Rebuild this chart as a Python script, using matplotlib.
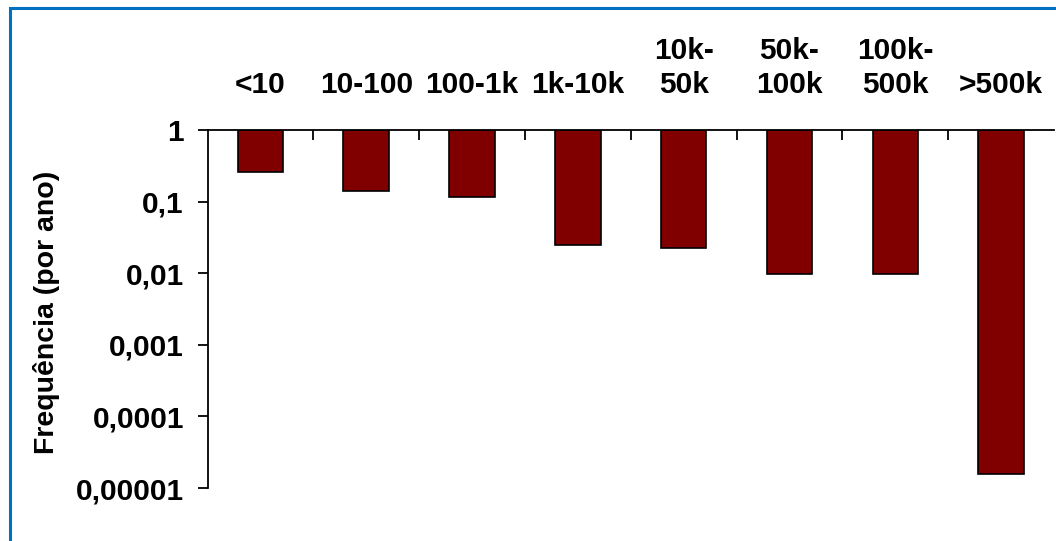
import numpy as np
import matplotlib
matplotlib.use("Agg")
import matplotlib.pyplot as plt
from matplotlib.patches import Rectangle
from matplotlib.ticker import FixedLocator, FixedFormatter

plt.rcParams['font.family'] = ['Liberation Sans', 'DejaVu Sans']
plt.rcParams['font.weight'] = 'bold'
plt.rcParams['axes.labelweight'] = 'bold'

# faixas de tamanho e frequência anual
faixas = ['<10', '10-100', '100-1k', '1k-10k', '10k-\n50k', '50k-\n100k', '100k-\n500k', '>500k']
freq = [0.257, 0.142, 0.117, 0.025, 0.0224, 0.0099, 0.0099, 0.0000158]
y_ticks = [1, 0.1, 0.01, 0.001, 0.0001, 0.00001]
y_labels = ['1', '0,1', '0,01', '0,001', '0,0001', '0,00001']

FS = 21.5
W, H = 1056, 541
fig = plt.figure(figsize=(W / 100, H / 100), dpi=100)
ax = fig.add_axes([207.5 / W, 1 - 488 / H, (1054 - 207.5) / W, (488 - 130) / H])

x = np.arange(len(faixas))
freq = np.array(freq)
# barras penduradas a partir de 1 até o valor
ax.bar(x, 1 - freq, bottom=freq, width=0.43, color='#800000',
       edgecolor='black', linewidth=1.2)

ax.set_yscale('log')
ax.set_ylim(1e-5, 1)
ax.set_xlim(-0.5, len(faixas) - 0.5)

ax.yaxis.set_major_locator(FixedLocator(y_ticks))
ax.yaxis.set_major_formatter(FixedFormatter(y_labels))
ax.yaxis.set_minor_locator(FixedLocator([]))
ax.tick_params(axis='y', which='major', direction='out', length=7, width=1.3,
               pad=10, labelsize=FS)

ax.xaxis.tick_top()
ax.set_xticks(x)
ax.set_xticklabels(faixas, fontsize=FS, linespacing=1.3)
ax.set_xticks(np.arange(len(faixas) - 1) + 0.5, minor=True)
ax.tick_params(axis='x', which='major', length=0, pad=22)
ax.tick_params(axis='x', which='minor', direction='in', length=7, width=1.3)

for s in ['bottom', 'right']:
    ax.spines[s].set_visible(False)
for s in ['top', 'left']:
    ax.spines[s].set_linewidth(1.3)
ax.spines['top'].set_bounds(-0.5, len(faixas) - 0.5)

ax.set_ylabel('Frequência (por ano)', fontsize=20.5)
ax.yaxis.set_label_coords((60 - 207.5) / (1054 - 207.5), 0.49)

# moldura azul
fig.patches.append(Rectangle((10 / W, -0.1), 1.2, 1 - 7.5 / H + 0.1,
                             transform=fig.transFigure, fill=False,
                             edgecolor='#0070C0', linewidth=2.2))

fig.savefig('out.png', dpi=100)
